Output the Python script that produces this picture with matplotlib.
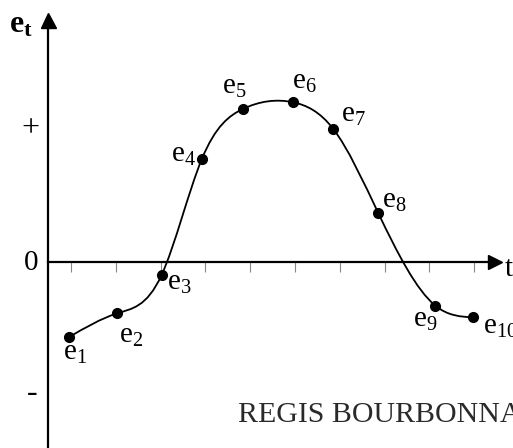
import matplotlib
matplotlib.use('Agg')
import matplotlib.pyplot as plt
import numpy as np
from matplotlib.path import Path
from matplotlib.patches import PathPatch

plt.rcParams['font.family'] = 'Liberation Serif'
plt.rcParams['mathtext.fontset'] = 'custom'
plt.rcParams['mathtext.rm'] = 'Liberation Serif'
plt.rcParams['mathtext.it'] = 'Liberation Serif:italic'
plt.rcParams['mathtext.bf'] = 'Liberation Serif:bold'

# error terms e1..e10
t_points = [0.95, 2.02, 3.02, 3.92, 4.84, 5.96, 6.85, 7.86, 9.13, 9.98]
e_values = [-0.57, -0.39, -0.10, 0.78, 1.16, 1.21, 1.01, 0.37, -0.33, -0.42]
point_labels = ['e_{1}', 'e_{2}', 'e_{3}', 'e_{4}', 'e_{5}',
                'e_{6}', 'e_{7}', 'e_{8}', 'e_{9}', 'e_{10}']
t_ticks = [1, 2, 3, 4, 5, 6, 7, 8, 9, 10]

# label offsets (points) from each dot
label_offsets = [(4.7, -11.5), (10.3, -16), (12.5, -5.5), (-13.3, 2.9), (-6.5, 15.5),
                 (7.7, 14.9), (14.5, 9.6), (11.3, 8.9), (-7.2, -10.1), (19.2, -6.7)]


def spline_path(x, y):
    # natural cubic spline slopes, drawn as bezier segments
    x = np.asarray(x, float)
    y = np.asarray(y, float)
    n = len(x)
    h = np.diff(x)
    A = np.zeros((n, n))
    b = np.zeros(n)
    A[0, 0], A[0, 1] = 2, 1
    b[0] = 3 * (y[1] - y[0]) / h[0]
    A[-1, -2], A[-1, -1] = 1, 2
    b[-1] = 3 * (y[-1] - y[-2]) / h[-1]
    for i in range(1, n - 1):
        A[i, i - 1] = 1 / h[i - 1]
        A[i, i] = 2 * (1 / h[i - 1] + 1 / h[i])
        A[i, i + 1] = 1 / h[i]
        b[i] = 3 * ((y[i] - y[i - 1]) / h[i - 1] ** 2 + (y[i + 1] - y[i]) / h[i] ** 2)
    m = np.linalg.solve(A, b)
    verts = [(x[0], y[0])]
    codes = [Path.MOVETO]
    for i in range(n - 1):
        verts += [(x[i] + h[i] / 3, y[i] + m[i] * h[i] / 3),
                  (x[i + 1] - h[i] / 3, y[i + 1] - m[i + 1] * h[i] / 3),
                  (x[i + 1], y[i + 1])]
        codes += [Path.CURVE4] * 3
    return Path(verts, codes)


fig = plt.figure(figsize=(5.13, 4.48), dpi=100)
ax = fig.add_axes([0, 0, 1, 1])
ax.set_xlim(-0.585, 10.866)
ax.set_ylim(-1.409, 1.985)

# axes through the origin
y_axis_t = 0.487
ax.spines['top'].set_visible(False)
ax.spines['right'].set_visible(False)
ax.spines['left'].set_position(('data', y_axis_t))
ax.spines['bottom'].set_position(('data', 0))
ax.spines['left'].set_bounds(-1.409, 1.8)
ax.spines['bottom'].set_bounds(y_axis_t, 10.4)
for s in ('left', 'bottom'):
    ax.spines[s].set_linewidth(1.6)
ax.set_xticks(t_ticks)
ax.set_yticks([])
ax.tick_params(axis='x', direction='out', length=7, width=0.8, color='#888888',
               labelbottom=False)
ax.plot(10.475, 0, marker='>', ms=10.5, color='black', clip_on=False)
ax.plot(y_axis_t, 1.837, marker='^', ms=10.8, color='black', clip_on=False)

# curve and points
ax.add_patch(PathPatch(spline_path(t_points, e_values), fill=False,
                       lw=1.3, edgecolor='black'))
ax.plot(t_points, e_values, 'o', color='black', ms=7)

for t, e, lab, off in zip(t_points, e_values, point_labels, label_offsets):
    ax.annotate('$\\mathrm{' + lab + '}$', (t, e), xytext=off, textcoords='offset points',
                ha='center', va='center', fontsize=21)

ax.text(0.041, 0.944, '$\\mathbf{e}_{\\mathbf{t}}$', transform=ax.transAxes,
        ha='center', va='center', fontsize=23)
ax.text(0.060, 0.712, '+', transform=ax.transAxes, ha='center', va='center', fontsize=23)
ax.text(0.060, 0.413, '0', transform=ax.transAxes, ha='center', va='center', fontsize=21)
ax.text(0.062, 0.121, '-', transform=ax.transAxes, ha='center', va='center', fontsize=23)
ax.text(0.984, 0.400, 't', transform=ax.transAxes, ha='left', va='center', fontsize=21)
ax.text(0.464, 0.074, 'REGIS BOURBONNAIS', transform=ax.transAxes, ha='left',
        va='center', fontsize=21.5, color='#2a2a2a')

fig.savefig('out.png', dpi=100)
